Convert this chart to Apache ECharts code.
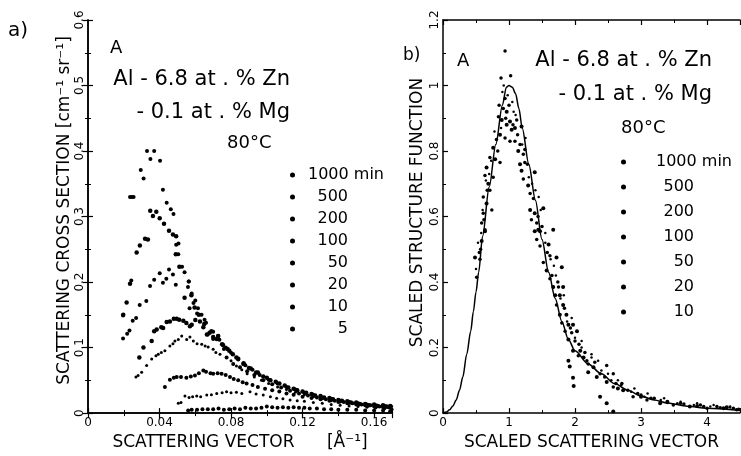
<!DOCTYPE html>
<html>
<head>
<meta charset="utf-8">
<script src="https://cdn.jsdelivr.net/npm/echarts/dist/echarts.min.js"></script>
<style>
html,body{margin:0;padding:0;background:#fff;}
#chart{width:741px;height:456px;}
</style>
</head>
<body>
<div id="chart"></div>
<script>
// ---------- DATA ----------
const seriesNames = ['1000 min','500','200','100','50','20','10','5'];

// Panel a): scattering cross section vs scattering vector
const L1000 = [[0.0235,0.33],[0.0245,0.33],[0.0255,0.33],[0.0295,0.371],[0.0311,0.358],[0.0330,0.400],[0.0349,0.388],[0.0370,0.400],[0.0403,0.385],[0.0419,0.341],[0.0440,0.321],[0.0463,0.311],[0.0478,0.304],[0.0493,0.257],[0.0506,0.259],[0.0505,0.2425],[0.0526,0.2235],[0.0540,0.215],[0.0563,0.201],[0.0580,0.1825],[0.0600,0.172],[0.0615,0.160],[0.0635,0.150],[0.0660,0.138],[0.0700,0.124],[0.0735,0.112],[0.0770,0.100],[0.0800,0.092],[0.0840,0.082],[0.0880,0.073],[0.0920,0.066],[0.0960,0.058],[0.1010,0.051],[0.1060,0.045],[0.1110,0.040],[0.1160,0.036],[0.1210,0.031],[0.1260,0.028],[0.1310,0.024],[0.1360,0.022],[0.1410,0.019],[0.1460,0.017],[0.1510,0.015],[0.1560,0.013],[0.1610,0.012],[0.1660,0.011],[0.1695,0.010]];
const L500 = [[0.0197,0.150],[0.0216,0.169],[0.0235,0.1975],[0.0272,0.245],[0.0290,0.256],[0.0319,0.266],[0.0335,0.265],[0.0348,0.309],[0.0363,0.301],[0.0382,0.3075],[0.0401,0.2975],[0.0425,0.289],[0.0453,0.2785],[0.0475,0.2725],[0.0493,0.270],[0.0491,0.2425],[0.0511,0.2235],[0.0540,0.176],[0.0578,0.180],[0.0596,0.161],[0.0620,0.150],[0.0650,0.136],[0.0690,0.125],[0.0720,0.113],[0.0755,0.104],[0.0790,0.095],[0.0830,0.085],[0.0870,0.076],[0.0910,0.068],[0.0950,0.062],[0.1000,0.054],[0.1050,0.048],[0.1100,0.042],[0.1150,0.037],[0.1200,0.033],[0.1250,0.029],[0.1300,0.026],[0.1350,0.023],[0.1400,0.020],[0.1450,0.018],[0.1500,0.016],[0.1550,0.014],[0.1600,0.013],[0.1650,0.012],[0.1690,0.011]];
const L200 = [[0.0196,0.149],[0.0196,0.114],[0.0219,0.121],[0.0232,0.126],[0.0242,0.2025],[0.0250,0.141],[0.0269,0.145],[0.0289,0.165],[0.0326,0.171],[0.0347,0.194],[0.0370,0.2035],[0.0401,0.2135],[0.0419,0.199],[0.0438,0.205],[0.0453,0.219],[0.0475,0.2115],[0.0491,0.196],[0.0564,0.201],[0.0559,0.1925],[0.0568,0.160],[0.0590,0.168],[0.0610,0.152],[0.0652,0.1425],[0.0670,0.120],[0.0700,0.113],[0.0728,0.1175],[0.0760,0.098],[0.0775,0.085],[0.0812,0.075],[0.0850,0.070],[0.0890,0.064],[0.0930,0.058],[0.0980,0.050],[0.1030,0.044],[0.1080,0.039],[0.1130,0.034],[0.1180,0.030],[0.1230,0.027],[0.1280,0.024],[0.1330,0.021],[0.1380,0.019],[0.1430,0.017],[0.1480,0.015],[0.1530,0.013],[0.1580,0.012],[0.1630,0.010],[0.1680,0.009]];
const L100 = [[0.0287,0.085],[0.0310,0.100],[0.0356,0.110],[0.0370,0.125],[0.0384,0.1275],[0.0410,0.131],[0.0420,0.130],[0.0440,0.139],[0.0458,0.140],[0.0480,0.144],[0.0496,0.144],[0.0510,0.1425],[0.0533,0.141],[0.0550,0.1375],[0.0570,0.1325],[0.0580,0.135],[0.0600,0.142],[0.0626,0.140],[0.0645,0.131],[0.0665,0.120],[0.0680,0.1225],[0.0700,0.116],[0.0728,0.1175],[0.0750,0.105],[0.0780,0.098],[0.0810,0.090],[0.0840,0.083],[0.0870,0.075],[0.0900,0.069],[0.0940,0.062],[0.0980,0.056],[0.1020,0.050],[0.1070,0.045],[0.1120,0.039],[0.1170,0.035],[0.1220,0.031],[0.1270,0.027],[0.1320,0.024],[0.1370,0.021],[0.1420,0.019],[0.1470,0.016],[0.1520,0.014],[0.1570,0.012],[0.1620,0.011],[0.1670,0.010]];
const L50 = [[0.0268,0.055],[0.0280,0.0575],[0.0300,0.0625],[0.0328,0.0725],[0.0356,0.0825],[0.0380,0.0875],[0.0393,0.090],[0.0410,0.0925],[0.0430,0.095],[0.0458,0.1025],[0.0475,0.106],[0.0486,0.110],[0.0505,0.1125],[0.0524,0.1175],[0.0552,0.1125],[0.0570,0.116],[0.0589,0.110],[0.0610,0.106],[0.0636,0.105],[0.0655,0.1025],[0.0672,0.101],[0.0700,0.0975],[0.0715,0.0925],[0.0738,0.090],[0.0775,0.085],[0.0800,0.080],[0.0830,0.072],[0.0860,0.066],[0.0890,0.060],[0.0930,0.055],[0.0970,0.050],[0.1010,0.045],[0.1060,0.040],[0.1110,0.036],[0.1160,0.032],[0.1210,0.028],[0.1260,0.025],[0.1310,0.022],[0.1360,0.019],[0.1410,0.017],[0.1460,0.015],[0.1510,0.013],[0.1560,0.011],[0.1610,0.010],[0.1660,0.009]];
const L20 = [[0.0430,0.040],[0.0458,0.051],[0.0480,0.054],[0.0496,0.055],[0.0520,0.055],[0.0550,0.054],[0.0575,0.056],[0.0598,0.0575],[0.0620,0.061],[0.0645,0.065],[0.0660,0.063],[0.0685,0.061],[0.0700,0.060],[0.0725,0.061],[0.0747,0.060],[0.0770,0.058],[0.0794,0.055],[0.0815,0.052],[0.0840,0.050],[0.0865,0.047],[0.0887,0.045],[0.0920,0.043],[0.0950,0.040],[0.0990,0.037],[0.1030,0.035],[0.1070,0.033],[0.1110,0.030],[0.1150,0.028],[0.1200,0.025],[0.1250,0.023],[0.1300,0.021],[0.1350,0.019],[0.1400,0.017],[0.1450,0.015],[0.1500,0.013],[0.1550,0.012],[0.1600,0.010],[0.1650,0.009],[0.1690,0.008]];
const L10 = [[0.0505,0.015],[0.0520,0.016],[0.0542,0.026],[0.0565,0.024],[0.0585,0.025],[0.0608,0.026],[0.0630,0.025],[0.0664,0.0275],[0.0690,0.028],[0.0720,0.030],[0.0750,0.031],[0.0775,0.0325],[0.0800,0.031],[0.0830,0.032],[0.0860,0.030],[0.0906,0.0325],[0.0940,0.029],[0.0980,0.0275],[0.1020,0.025],[0.1055,0.0225],[0.1090,0.022],[0.1130,0.020],[0.1170,0.019],[0.1210,0.018],[0.1260,0.016],[0.1310,0.015],[0.1360,0.013],[0.1410,0.012],[0.1460,0.011],[0.1510,0.010],[0.1560,0.009],[0.1610,0.008],[0.1660,0.007],[0.1700,0.006]];
const L5 = [[0.0560,0.004],[0.0580,0.005],[0.0610,0.005],[0.0640,0.006],[0.0670,0.006],[0.0700,0.006],[0.0730,0.007],[0.0760,0.005],[0.0790,0.006],[0.0820,0.007],[0.0850,0.006],[0.0880,0.008],[0.0910,0.007],[0.0940,0.007],[0.0970,0.008],[0.1000,0.010],[0.1030,0.009],[0.1060,0.008],[0.1090,0.009],[0.1120,0.008],[0.1150,0.009],[0.1180,0.008],[0.1210,0.008],[0.1240,0.007],[0.1280,0.007],[0.1320,0.006],[0.1360,0.006],[0.1400,0.005],[0.1450,0.005],[0.1500,0.005],[0.1550,0.004],[0.1600,0.004],[0.1650,0.004],[0.1690,0.003]];

// Panel b): scaled structure function vs scaled scattering vector
const R1000 = [[0.94,1.105],[0.879,1.023],[1.025,1.03],[0.94,0.96],[1.0,0.94],[0.914,0.93],[0.84,0.905],[1.117,0.895],[0.81,0.835],[0.71,0.78],[0.636,0.725],[0.61,0.66],[0.586,0.58],[0.55,0.49],[0.51,0.415],[1.24,0.805],[1.32,0.67],[1.42,0.58],[1.47,0.51],[1.62,0.41],[1.72,0.33],[1.85,0.25],[2.0,0.22],[2.18,0.16],[2.38,0.12],[2.58,0.08],[2.88,0.05],[3.09,0.04],[3.49,0.025],[4.0,0.015],[4.45,0.01]];
const R500 = [[0.965,0.92],[0.89,0.895],[1.015,0.89],[0.965,0.88],[1.04,0.865],[1.09,0.87],[1.19,0.875],[0.864,0.85],[0.76,0.81],[0.79,0.775],[0.66,0.75],[0.686,0.70],[0.66,0.64],[0.636,0.555],[0.586,0.525],[0.485,0.475],[1.14,0.80],[1.29,0.695],[1.39,0.61],[1.444,0.56],[1.57,0.435],[1.67,0.385],[1.77,0.30],[1.9,0.27],[2.03,0.25],[2.08,0.19],[2.28,0.14],[2.48,0.095],[2.73,0.07],[3.29,0.03],[3.74,0.02],[4.25,0.015]];
const R200 = [[0.94,0.84],[1.015,0.83],[1.09,0.83],[1.167,0.82],[0.864,0.765],[0.76,0.72],[0.71,0.68],[0.61,0.61],[0.636,0.56],[0.56,0.47],[1.217,0.79],[1.24,0.765],[1.217,0.715],[1.37,0.655],[1.34,0.59],[1.42,0.53],[1.52,0.46],[1.62,0.48],[1.75,0.385],[1.8,0.275],[1.95,0.245],[2.05,0.175],[2.2,0.15],[2.48,0.145],[2.58,0.12],[2.71,0.09],[2.95,0.06],[3.2,0.045],[3.6,0.03],[3.9,0.025],[4.15,0.02],[4.4,0.015]];
const R100 = [[1.167,0.76],[1.19,0.74],[1.32,0.62],[1.39,0.735],[1.52,0.625],[1.47,0.555],[1.39,0.555],[1.6,0.515],[1.67,0.56],[1.72,0.475],[1.8,0.445],[1.82,0.385],[1.7,0.36],[1.77,0.36],[1.82,0.33],[1.87,0.30],[1.97,0.27],[1.9,0.225],[1.97,0.19],[2.13,0.17],[1.9,0.16],[1.92,0.142],[1.97,0.108],[1.98,0.083],[2.38,0.05],[2.48,0.03],[2.58,0.005],[2.2,0.125],[2.33,0.11],[2.65,0.075],[3.0,0.05],[3.4,0.035],[3.85,0.022],[4.3,0.018]];
const R50 = [[0.78,0.86],[0.9,0.98],[1.05,0.95],[1.1,0.91],[1.25,0.84],[0.7,0.73],[0.6,0.62],[0.53,0.52],[1.35,0.7],[1.45,0.66],[1.55,0.52],[1.68,0.45],[1.78,0.35],[1.88,0.28],[2.0,0.23],[2.1,0.2],[2.25,0.17],[2.4,0.13],[2.55,0.1],[2.7,0.085],[2.85,0.065],[3.05,0.05],[3.3,0.04],[3.55,0.03],[3.8,0.025],[4.05,0.02],[4.35,0.017]];
const R20 = [[0.85,0.94],[0.95,0.9],[1.06,0.88],[1.13,0.85],[0.83,0.8],[0.74,0.62],[0.67,0.68],[0.62,0.59],[0.57,0.5],[1.28,0.76],[1.44,0.6],[1.5,0.57],[1.58,0.49],[1.65,0.42],[1.74,0.4],[1.84,0.32],[1.93,0.26],[2.06,0.21],[2.15,0.185],[2.3,0.155],[2.45,0.11],[2.62,0.09],[2.8,0.07],[3.0,0.055],[3.15,0.045],[3.4,0.032],[3.65,0.028],[3.95,0.02],[4.2,0.016],[4.48,0.012]];
const R10 = [[0.92,1.0],[0.98,0.97],[1.07,0.92],[0.88,0.87],[0.73,0.77],[0.65,0.71],[0.58,0.55],[0.5,0.44],[1.2,0.82],[1.3,0.72],[1.4,0.68],[1.48,0.62],[1.55,0.55],[1.63,0.47],[1.71,0.42],[1.83,0.36],[1.95,0.29],[2.1,0.22],[2.25,0.18],[2.35,0.16],[2.5,0.12],[2.65,0.1],[2.9,0.075],[3.1,0.06],[3.35,0.045],[3.6,0.035],[3.85,0.03],[4.1,0.025],[4.35,0.02]];
// fitted scaling function (solid line)
const RCurve = [[0,0],[0.05,0.003],[0.1,0.01],[0.15,0.022],[0.2,0.04],[0.25,0.07],[0.3,0.11],[0.36,0.18],[0.42,0.25],[0.46,0.31],[0.5,0.37],[0.54,0.43],[0.6,0.54],[0.7,0.69],[0.8,0.82],[0.9,0.94],[0.96,0.995],[1.0,1.0],[1.05,0.995],[1.1,0.975],[1.15,0.93],[1.2,0.87],[1.3,0.76],[1.4,0.65],[1.5,0.53],[1.6,0.43],[1.7,0.35],[1.8,0.28],[1.9,0.225],[2.0,0.19],[2.2,0.15],[2.4,0.12],[2.6,0.09],[2.8,0.07],[3.0,0.052],[3.2,0.04],[3.4,0.031],[3.7,0.021],[4.0,0.015],[4.5,0.008]];

const leftData = [L1000, L500, L200, L100, L50, L20, L10, L5];
const rightData = [R1000, R500, R200, R100, R50, R20, R10];
const dotSizes = [4, 4.5, 4, 4.5, 3, 4, 3, 4];

// ---------- CHART ----------
const FONT = 'DejaVu Sans';
const chart = echarts.init(document.getElementById('chart'), null, {renderer: 'canvas'});

function mainX(gridIndex, max, name, nameGap) {
  return {
    gridIndex, type: 'value', min: 0, max, interval: max > 1 ? 1 : 0.04,
    position: 'bottom',
    name, nameLocation: 'middle', nameGap,
    nameTextStyle: {fontFamily: FONT, fontSize: 17, color: '#000'},
    axisLine: {lineStyle: {color: '#000', width: 1.5}},
    axisTick: {inside: true, length: 5, lineStyle: {color: '#000', width: 1.2}},
    minorTick: {show: true, splitNumber: 2, length: 3, lineStyle: {color: '#000'}},
    axisLabel: {fontFamily: FONT, fontSize: 12, color: '#000', margin: 4, showMaxLabel: false},
    splitLine: {show: false}
  };
}
function topX(gridIndex, max) {
  return {
    gridIndex, type: 'value', min: 0, max, interval: max > 1 ? 1 : 0.04, position: 'top',
    axisLine: {lineStyle: {color: '#000', width: 1.5}},
    axisTick: {inside: true, length: 5, lineStyle: {color: '#000', width: 1.2}},
    minorTick: {show: true, splitNumber: 2, length: 3, lineStyle: {color: '#000'}},
    axisLabel: {show: false}, splitLine: {show: false}
  };
}
function mainY(gridIndex, max, interval, name, nameGap, pad) {
  return {
    gridIndex, type: 'value', min: 0, max, interval, position: 'left',
    name, nameLocation: 'middle', nameGap,
    nameTextStyle: {fontFamily: FONT, fontSize: 17, color: '#000', padding: pad},
    axisLine: {lineStyle: {color: '#000', width: 1.5}},
    axisTick: {inside: true, length: 5, lineStyle: {color: '#000', width: 1.2}},
    minorTick: {show: true, splitNumber: 2, length: 3, lineStyle: {color: '#000'}},
    axisLabel: {fontFamily: FONT, fontSize: 12, color: '#000', rotate: 90, margin: 2},
    splitLine: {show: false}
  };
}

const series = [];
seriesNames.forEach((n, i) => {
  series.push({
    name: n, type: 'scatter', xAxisIndex: 0, yAxisIndex: 0,
    data: leftData[i], symbolSize: dotSizes[i],
    itemStyle: {color: '#000', opacity: 1}, silent: true
  });
});
seriesNames.slice(0, 7).forEach((n, i) => {
  series.push({
    name: n, type: 'scatter', xAxisIndex: 2, yAxisIndex: 2,
    data: rightData[i], symbolSize: dotSizes[i] - 0.5,
    itemStyle: {color: '#000', opacity: 1}, silent: true
  });
});
series.push({
  name: 'fit', type: 'line', xAxisIndex: 2, yAxisIndex: 2, data: RCurve,
  showSymbol: false, smooth: 0.3, smoothMonotone: 'x',
  lineStyle: {color: '#000', width: 1.5}, silent: true
});

function legendCfg(names, left, top, gap, pad, w) {
  return {
    data: names, orient: 'vertical', left, top, itemGap: gap, padding: 0,
    itemWidth: 5, itemHeight: 5, icon: 'circle', selectedMode: false,
    formatter: n => n === '1000 min' ? '{a|' + n + '}' : '{b|' + n + '}',
    textStyle: {
      fontFamily: FONT, fontSize: 16, color: '#000',
      rich: {
        a: {fontFamily: FONT, fontSize: 16, color: '#000', padding: [0, 0, 0, pad]},
        b: {fontFamily: FONT, fontSize: 16, color: '#000', width: w, align: 'right', padding: [0, 0, 0, pad]}
      }
    }
  };
}

function txt(x, y, s, size, align) {
  return {type: 'text', x: x, y: y,
    style: {text: s, fontFamily: FONT, fontSize: size, fill: '#000', textAlign: align || 'left', textVerticalAlign: 'middle'}};
}

const option = {
  animation: false,
  backgroundColor: '#fff',
  grid: [
    {left: 88, top: 20, width: 304, height: 400},
    {left: 443, top: 20, width: 297, height: 400}
  ],
  xAxis: [
    mainX(0, 0.17, 'SCATTERING VECTOR      [Å\u207B\u00B9]', 15),
    topX(0, 0.17),
    mainX(1, 4.5, 'SCALED SCATTERING VECTOR', 16),
    topX(1, 4.5)
  ],
  yAxis: [
    mainY(0, 0.6, 0.1, 'SCATTERING CROSS SECTION [cm\u207B\u00B9 sr\u207B\u00B9]', 14, [0, 0, 0, 12]),
    {gridIndex: 0, type: 'value', min: 0, max: 0.6, interval: 0.1, position: 'right',
      axisLine: {lineStyle: {color: '#000', width: 1.5}},
      axisTick: {inside: true, length: 5, lineStyle: {color: '#000', width: 1.2}},
      minorTick: {show: true, splitNumber: 2, length: 3, lineStyle: {color: '#000'}},
      axisLabel: {show: false}, splitLine: {show: false}},
    mainY(1, 1.2, 0.2, 'SCALED STRUCTURE FUNCTION', 17, [0, 0, 0, 8])
  ],
  legend: [
    legendCfg(seriesNames, 290, 167, 6, 8, 40),
    legendCfg(seriesNames.slice(0, 7), 621, 154, 9, 25, 38)
  ],
  graphic: [
    txt(8, 31, 'a)', 20),
    txt(110, 48, 'A', 18),
    txt(290, 80, 'Al - 6.8 at . % Zn', 21, 'right'),
    txt(290, 113, '- 0.1 at . % Mg', 21, 'right'),
    txt(227, 143, '80°C', 18),
    txt(403, 56, 'b)', 17),
    txt(457, 61, 'A', 18),
    txt(712, 61, 'Al - 6.8 at . % Zn', 21, 'right'),
    txt(712, 95, '- 0.1 at . % Mg', 21, 'right'),
    txt(621, 128, '80°C', 18)
  ],
  series
};
chart.setOption(option);
</script>
</body>
</html>
